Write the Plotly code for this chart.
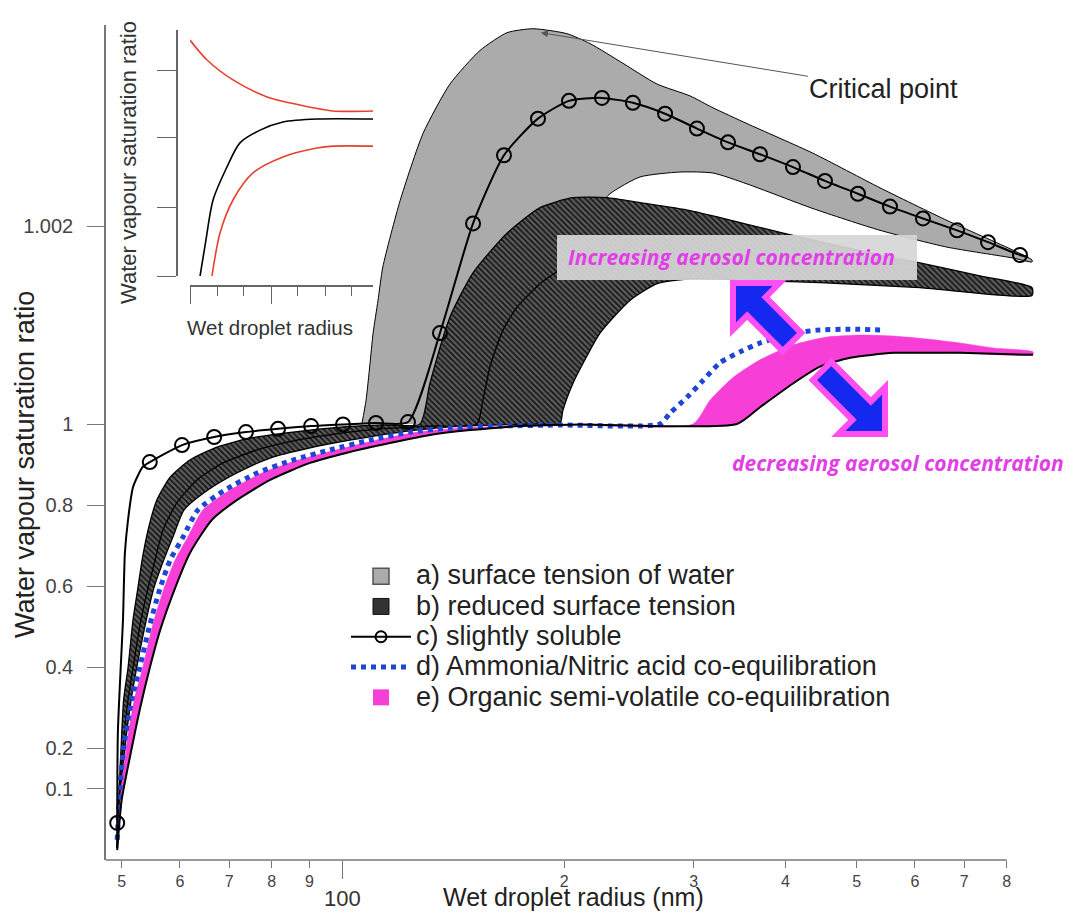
import numpy as np
import plotly.graph_objects as go

# ---------------------------------------------------------------------------
# Data.  x: wet droplet radius (nm), S: saturation ratio
# ---------------------------------------------------------------------------
# a) surface tension of water: outer (upper) and inner (lower) boundary
A_UP_X = [106.1, 107.5, 108.8, 109.9, 111.6, 113.3, 119.6, 128.5, 139.8, 153.6, 167.2, 181.4,
          201.7, 216.8, 240.4, 267.5, 296.6, 318.7, 354.5, 436.0, 537.8, 663.4, 815.6, 865.9]
A_UP_S = [1.0, 1.00024, 1.0006, 1.00092, 1.00125, 1.00159, 1.00226, 1.00294, 1.00344, 1.00378,
          1.00396, 1.004, 1.00395, 1.00385, 1.00365, 1.00344, 1.00332, 1.0032, 1.00304, 1.00274,
          1.00239, 1.00206, 1.00176, 1.00166]
A_LO_X = [132.1, 135.5, 148.9, 174.1, 216.8, 230.8, 253.6, 287.4, 318.7, 354.5, 436.0, 537.8,
          663.4, 815.6, 865.9]
A_LO_S = [1.0, 1.00024, 1.00105, 1.00166, 1.00211, 1.00233, 1.0025, 1.00255, 1.00254, 1.00243,
          1.00218, 1.00196, 1.00179, 1.00168, 1.00164]

# b) reduced surface tension: upper, lower and middle curve of the hatched band
B_UP_X = [49.3, 49.6, 49.9, 50.3, 51.0, 51.8, 52.6, 53.3, 54.3, 55.8, 58.2, 61.9, 67.4, 74.7,
          85.5, 100.0, 113.3, 127.3, 131.3, 139.8, 150.3, 167.2, 185.4, 205.5, 228.7, 253.6,
          296.6, 393.2, 537.8, 609.5, 735.6, 865.9]
B_UP_S = [-0.047, 0.096, 0.2, 0.319, 0.398, 0.516, 0.595, 0.664, 0.738, 0.812, 0.869, 0.911,
          0.943, 0.965, 0.98, 0.993, 0.998, 1.0, 1.00041, 1.00108, 1.00153, 1.00193, 1.00219,
          1.00229, 1.00229, 1.00224, 1.00216, 1.00194, 1.00171, 1.00163, 1.0015, 1.00138]
B_LO_X = [49.3, 49.7, 50.5, 51.5, 52.4, 54.0, 55.3, 56.7, 58.7, 60.8, 65.5, 71.7, 79.6, 90.2,
          102.2, 119.6, 139.8, 163.6, 185.4, 197.3, 199.2, 205.5, 213.4, 223.7, 245.7, 267.5,
          296.6, 369.3, 445.7, 609.5, 865.9]
B_LO_S = [-0.047, 0.072, 0.2, 0.319, 0.398, 0.516, 0.595, 0.652, 0.721, 0.788, 0.837, 0.879,
          0.916, 0.941, 0.96, 0.98, 0.993, 0.998, 1.0, 1.0, 1.00014, 1.00041, 1.00065, 1.00092,
          1.00125, 1.00142, 1.00147, 1.00145, 1.00143, 1.00138, 1.0013]
B_MID_X = [49.3, 49.7, 50.2, 51.0, 51.8, 53.1, 54.3, 55.3, 56.9, 59.4, 63.3, 68.7, 76.4, 86.6,
           100.0, 112.3, 131.3, 152.1, 155.0, 158.5, 165.1, 172.4, 185.4, 195.5]
B_MID_S = [-0.047, 0.096, 0.2, 0.319, 0.398, 0.516, 0.595, 0.652, 0.738, 0.805, 0.862, 0.904,
           0.936, 0.96, 0.978, 0.988, 0.995, 1.0, 1.00024, 1.00058, 1.00095, 1.00118, 1.00142,
           1.00154]

# c) slightly soluble: line path and circle markers
C_LINE_X = [49.3, 49.3, 49.4, 49.9, 50.2, 50.5, 51.0, 51.8, 53.4, 54.6, 60.4, 66.8, 73.8, 81.6,
            90.5, 100.0, 110.9, 122.6, 135.5, 150.3, 165.6, 184.2, 203.0, 225.1, 248.0, 274.3,
            303.1, 334.1, 369.3, 409.5, 452.7, 501.9, 554.9, 615.3, 684.6, 754.4, 833.8, 855.1]
C_LINE_S = [-0.047, 0.015, 0.237, 0.417, 0.516, 0.681, 0.763, 0.844, 0.894, 0.906, 0.948, 0.968,
            0.98, 0.988, 0.995, 0.999, 1.00001, 1.00002, 1.00092, 1.00203, 1.00272, 1.00309,
            1.00327, 1.0033, 1.00325, 1.00314, 1.00299, 1.00285, 1.00273, 1.0026, 1.00246,
            1.00233, 1.0022, 1.00208, 1.00196, 1.00184, 1.00171, 1.00169]
C_MARK_X = [49.3, 54.6, 60.4, 66.8, 73.8, 81.6, 90.5, 100.0, 110.9, 122.6, 135.5, 150.3, 165.6,
            184.2, 203.0, 225.1, 248.0, 274.3, 303.1, 334.1, 369.3, 409.5, 452.7, 501.9, 554.9,
            615.3, 684.6, 754.4, 833.8]
C_MARK_S = [0.015, 0.906, 0.948, 0.968, 0.98, 0.988, 0.995, 0.999, 1.00001, 1.00002, 1.00092,
            1.00203, 1.00272, 1.00309, 1.00327, 1.0033, 1.00325, 1.00314, 1.00299, 1.00285,
            1.00273, 1.0026, 1.00246, 1.00233, 1.0022, 1.00208, 1.00196, 1.00184, 1.00171]

# d) ammonia / nitric acid co-equilibration
D_X = [49.3, 49.7, 50.3, 51.6, 52.9, 54.6, 56.4, 58.2, 60.6, 63.5, 69.1, 76.4, 85.5, 96.0, 108.8,
       123.3, 139.8, 163.6, 197.3, 270.0, 278.6, 293.8, 308.9, 325.8, 346.8, 369.3, 405.7, 441.5,
       489.5, 546.3]
D_S = [-0.027, 0.096, 0.2, 0.319, 0.398, 0.504, 0.595, 0.664, 0.721, 0.788, 0.837, 0.879, 0.911,
       0.936, 0.96, 0.98, 0.99, 0.995, 0.9975, 1.0, 1.00011, 1.00027, 1.00044, 1.00062, 1.00073,
       1.00082, 1.00091, 1.00095, 1.00096, 1.00095]

# e) organic semi-volatile co-equilibration: outer edge of band and black curve
E_UP_X = [49.3, 49.9, 50.7, 52.0, 53.4, 55.1, 57.1, 59.1, 61.5, 64.5, 70.2, 77.6, 86.9, 97.8,
          110.9, 126.5, 144.3, 168.7, 203.6, 299.4, 315.7, 339.3, 369.3, 409.5, 455.6, 505.1,
          560.2, 623.1, 691.0, 766.2, 868.6]
E_UP_S = [-0.04, 0.096, 0.2, 0.319, 0.398, 0.504, 0.595, 0.664, 0.721, 0.788, 0.837, 0.879,
          0.911, 0.936, 0.96, 0.98, 0.99, 0.995, 0.9975, 1.0, 1.00024, 1.00047, 1.00065, 1.0008,
          1.00088, 1.0009, 1.00089, 1.00086, 1.00082, 1.00077, 1.00073]
E_LO_X = [49.3, 50.0, 51.6, 52.9, 54.6, 56.4, 59.1, 61.9, 66.3, 71.7, 79.6, 90.2, 102.2, 115.8,
          131.3, 148.9, 174.1, 210.1, 343.6, 369.3, 409.5, 445.7, 489.5, 560.2, 623.1, 691.0,
          868.6]
E_LO_S = [-0.052, 0.072, 0.2, 0.294, 0.398, 0.491, 0.595, 0.681, 0.763, 0.812, 0.862, 0.904,
          0.931, 0.953, 0.973, 0.985, 0.995, 0.999, 1.0, 1.00017, 1.00041, 1.00058, 1.00067,
          1.00072, 1.00072, 1.00072, 1.0007]

# inset (schematic, arbitrary units 0..1)
IN_BLACK_U = [0.055, 0.087, 0.126, 0.202, 0.273, 0.383, 0.508, 0.694, 1.0]
IN_BLACK_V = [0.0, 0.146, 0.309, 0.443, 0.541, 0.593, 0.626, 0.638, 0.638]
IN_RED_UP_U = [0.0, 0.093, 0.235, 0.421, 0.601, 0.781, 1.0]
IN_RED_UP_V = [0.959, 0.878, 0.797, 0.728, 0.695, 0.671, 0.671]
IN_RED_LO_U = [0.12, 0.164, 0.235, 0.344, 0.508, 0.694, 0.781, 1.0]
IN_RED_LO_V = [0.0, 0.175, 0.309, 0.419, 0.484, 0.52, 0.528, 0.528]

# ticks
X_TICK_VALS = [50, 60, 70, 80, 90, 200, 300, 400, 500, 600, 700, 800]
X_TICK_TEXT = ['5', '6', '7', '8', '9', '2', '3', '4', '5', '6', '7', '8']
X_MAJOR_TICK = [100]
Y_TICK_VALS = [0.1, 0.2, 0.4, 0.6, 0.8, 1.0, 1.002]
Y_TICK_TEXT = ['0.1', '0.2', '0.4', '0.6', '0.8', '1', '1.002']
INSET_X_MAJOR = [0.0, 0.443]
INSET_X_MINOR = [0.148, 0.295, 0.59, 0.738, 0.885]
INSET_Y_TICKS = [0.0, 0.28, 0.561, 0.837]

LEGEND_NAMES = ['a) surface tension of water', 'b) reduced surface tension',
                'c) slightly soluble', 'd) Ammonia/Nitric acid co-equilibration',
                'e) Organic semi-volatile co-equilibration']

# ---------------------------------------------------------------------------
# broken saturation axis: linear below 1, strongly expanded above 1
K_ABOVE = 244.0


def ty(s):
    s = np.asarray(s, dtype=float)
    return np.where(s <= 1.0, s, 1.0 + (s - 1.0) * K_ABOVE).tolist()


# the page body has an 8px margin: the figure starts 8px in from the window corner
BODY = 8
W, H = 1082 - 2 * BODY, 914 - BODY
PL, PR, PT, PB = 106, 1035, 25, 860          # plot box in window pixels
ML, MT = PL - BODY, PT - BODY
MR, MB = W - (PR - BODY), H - (PB - BODY)
PW, PH = PR - PL, PB - PT
X_RANGE = [np.log10(47.6), np.log10(874.0)]
Y_RANGE = [-0.0765, 1.9852]


def fx(p):  # window pixel -> paper x
    return (p - PL) / PW


def fy(p):  # window pixel -> paper y
    return (PB - p) / PH


FONT = 'Liberation Sans, Arial, sans-serif'
GRAY = '#ababab'
PINK = '#f73fd8'
BLUE = '#1d46d4'
MAGENTA = '#e23ee8'

fig = go.Figure()

# a) grey band
fig.add_trace(go.Scatter(
    x=A_UP_X + A_LO_X[::-1], y=ty(A_UP_S + A_LO_S[::-1]), mode='lines', fill='toself',
    fillcolor=GRAY, line=dict(color='black', width=1, shape='spline', smoothing=0.6),
    showlegend=False, hoverinfo='skip'))

# b) hatched band
fig.add_trace(go.Scatter(
    x=B_UP_X + B_LO_X[::-1], y=ty(B_UP_S + B_LO_S[::-1]), mode='lines', fill='toself',
    fillpattern=dict(shape='\\', bgcolor='#5c5c5c', fgcolor='#161616', size=4, solidity=0.45,
                     fillmode='replace'),
    line=dict(color='black', width=1.3, shape='spline', smoothing=0.6),
    showlegend=False, hoverinfo='skip'))
fig.add_trace(go.Scatter(
    x=B_MID_X, y=ty(B_MID_S), mode='lines',
    line=dict(color='black', width=1.3, shape='spline', smoothing=0.6),
    showlegend=False, hoverinfo='skip'))

# e) pink band
fig.add_trace(go.Scatter(
    x=E_UP_X + E_LO_X[::-1], y=ty(E_UP_S + E_LO_S[::-1]), mode='lines', fill='toself',
    fillcolor=PINK, line=dict(color=PINK, width=0.5, shape='spline', smoothing=0.6),
    showlegend=False, hoverinfo='skip'))

LEG = '<span style="font-size:27px">{}</span>'

# d) blue dotted
fig.add_trace(go.Scatter(
    x=D_X, y=ty(D_S), mode='lines', legendrank=4, name=LEG.format(LEGEND_NAMES[3]),
    line=dict(color=BLUE, width=5, dash='dot', shape='spline', smoothing=0.6),
    hoverinfo='skip'))

# e) black curve
fig.add_trace(go.Scatter(
    x=E_LO_X, y=ty(E_LO_S), mode='lines',
    line=dict(color='black', width=2, shape='spline', smoothing=0.6),
    showlegend=False, hoverinfo='skip'))

# c) slightly soluble
fig.add_trace(go.Scatter(
    x=C_LINE_X, y=ty(C_LINE_S), mode='lines',
    line=dict(color='black', width=2, shape='spline', smoothing=0.6),
    showlegend=False, hoverinfo='skip'))
fig.add_trace(go.Scatter(
    x=C_MARK_X, y=ty(C_MARK_S), mode='markers',
    marker=dict(symbol='circle-open', size=14, color='black', line=dict(width=2)),
    showlegend=False, hoverinfo='skip'))

# legend entries
fig.add_trace(go.Scatter(
    x=[None], y=[None], mode='markers', name=LEG.format(LEGEND_NAMES[0]), legendrank=1,
    marker=dict(symbol='square', size=16, color=GRAY, line=dict(color='#555', width=1.5))))
fig.add_trace(go.Scatter(
    x=[None], y=[None], mode='markers', name=LEG.format(LEGEND_NAMES[1]), legendrank=2,
    marker=dict(symbol='square', size=16, color='#333333', line=dict(color='#111', width=1))))
fig.add_trace(go.Scatter(
    x=[None], y=[None], mode='lines+markers', name=LEG.format(LEGEND_NAMES[2]), legendrank=3,
    line=dict(color='black', width=2),
    marker=dict(symbol='circle-open', size=11, color='black', line=dict(width=2))))
fig.add_trace(go.Scatter(
    x=[None], y=[None], mode='markers', name=LEG.format(LEGEND_NAMES[4]), legendrank=5,
    marker=dict(symbol='square', size=16, color=PINK, line=dict(color=PINK, width=0))))

# inset
for u, v, col in [(IN_BLACK_U, IN_BLACK_V, 'black'), (IN_RED_UP_U, IN_RED_UP_V, '#e8402f'),
                  (IN_RED_LO_U, IN_RED_LO_V, '#e8402f')]:
    fig.add_trace(go.Scatter(x=u, y=v, xaxis='x2', yaxis='y2', mode='lines',
                             line=dict(color=col, width=1.6, shape='spline', smoothing=0.8),
                             showlegend=False, hoverinfo='skip'))


# ---------------------------------------------------------------------------
def fat_arrow(tip, tail, head_len=33, head_hw=33, shaft_hw=13):
    tip = np.array(tip, float)
    tail = np.array(tail, float)
    d = tail - tip
    d /= np.linalg.norm(d)
    n = np.array([-d[1], d[0]])
    b = tip + d * head_len
    pts = [tip, b + n * head_hw, b + n * shaft_hw, tail + n * shaft_hw,
           tail - n * shaft_hw, b - n * shaft_hw, b - n * head_hw]
    return 'M ' + ' L '.join(f'{fx(p[0]):.5f},{fy(p[1]):.5f}' for p in pts) + ' Z'


x800 = (np.log10(800) - X_RANGE[0]) / (X_RANGE[1] - X_RANGE[0])
shapes = [
    dict(type='line', xref='paper', yref='paper', x0=0, x1=x800, y0=0, y1=0,
         line=dict(color='#777', width=1.5)),
    dict(type='rect', xref='paper', yref='paper', x0=fx(557), x1=fx(917), y0=fy(280),
         y1=fy(235), fillcolor='rgba(214,214,214,0.93)', line=dict(width=0), layer='above'),
    dict(type='path', xref='paper', yref='paper', path=fat_arrow((733, 283), (792, 342)),
         fillcolor='#1428f0', line=dict(color='#ff4ff2', width=6), layer='above'),
    dict(type='path', xref='paper', yref='paper', path=fat_arrow((885, 434), (822, 371)),
         fillcolor='#1428f0', line=dict(color='#ff4ff2', width=6), layer='above'),
]

CTR = dict(xanchor='center', yanchor='middle', showarrow=False)
MAG_FONT = dict(size=21, color=MAGENTA, family='Open Sans, DejaVu Sans, sans-serif')
annotations = [
    dict(text='Water vapour saturation ratio', xref='paper', yref='paper', x=fx(25), y=fy(465),
         textangle=-90, font=dict(size=27, color='#222'), **CTR),
    dict(text='Wet droplet radius (nm)', xref='paper', yref='paper', x=fx(573), y=fy(897),
         font=dict(size=25, color='#222'), **CTR),
    dict(text='100', xref='x', yref='paper', x=np.log10(100), y=fy(898),
         font=dict(size=22, color='#333'), **CTR),
    dict(text='Water vapour saturation ratio', xref='paper', yref='paper', x=fx(128), y=fy(163),
         textangle=-90, font=dict(size=22, color='#333'), **CTR),
    dict(text='Wet droplet radius', xref='paper', yref='paper', x=fx(270), y=fy(327),
         font=dict(size=20.5, color='#333'), **CTR),
    dict(text='Critical point', xref='x', yref='y', x=np.log10(185.9),
         y=float(ty([1.00396])[0]), ax=343, ay=56, showarrow=True, arrowhead=2,
         arrowsize=1.4, arrowwidth=1, arrowcolor='#555', standoff=0,
         font=dict(size=27, color='#222')),
    dict(text='<b><i>Increasing aerosol concentration</i></b>', xref='paper', yref='paper',
         x=fx(731), y=fy(257), font=MAG_FONT, **CTR),
    dict(text='<b><i>decreasing aerosol concentration</i></b>', xref='paper', yref='paper',
         x=fx(898), y=fy(463), font=MAG_FONT, **CTR),
]

fig.update_layout(
    width=W, height=H,
    margin=dict(l=ML, r=MR, t=MT, b=MB, pad=0),
    paper_bgcolor='white', plot_bgcolor='white',
    font=dict(family=FONT, color='#222'),
    xaxis=dict(type='log', range=X_RANGE, showline=False, showgrid=False, zeroline=False,
               ticks='outside', ticklen=7, tickwidth=1.2, tickcolor='#777',
               tickmode='array', tickvals=X_TICK_VALS, ticktext=X_TICK_TEXT,
               tickfont=dict(size=16, color='#444'),
               minor=dict(tickmode='array', tickvals=X_MAJOR_TICK, ticks='outside', ticklen=18,
                          tickwidth=1.2, tickcolor='#777', showgrid=False)),
    yaxis=dict(range=Y_RANGE, showline=True, linecolor='#777', linewidth=1.5,
               showgrid=False, zeroline=False, ticks='outside', ticklen=17, tickwidth=1.2,
               tickcolor='#777', tickmode='array', tickvals=ty(Y_TICK_VALS),
               ticktext=Y_TICK_TEXT, tickfont=dict(size=20, color='#444'),
               ticklabelstandoff=10),
    xaxis2=dict(domain=[fx(190), fx(373)], anchor='free', position=fy(286), range=[0, 1],
                showline=True, linecolor='#666', linewidth=1.5, showgrid=False,
                zeroline=False, showticklabels=False, ticks='outside', ticklen=17,
                tickwidth=1.2, tickcolor='#666', tickmode='array', tickvals=INSET_X_MAJOR,
                minor=dict(tickmode='array', tickvals=INSET_X_MINOR, ticks='outside',
                           ticklen=9, tickwidth=1.2, tickcolor='#666', showgrid=False)),
    yaxis2=dict(domain=[fy(276), fy(30)], anchor='free', position=fx(177), range=[0, 1],
                showline=True, linecolor='#666', linewidth=1.5, showgrid=False,
                zeroline=False, showticklabels=False, ticks='outside', ticklen=19,
                tickwidth=1.2, tickcolor='#666', tickmode='array', tickvals=INSET_Y_TICKS),
    legend=dict(x=fx(346), y=fy(556), xanchor='left', yanchor='top',
                font=dict(size=21, color='#222'), itemwidth=60,
                bgcolor='rgba(0,0,0,0)', traceorder='normal'),
    shapes=shapes,
    annotations=annotations,
    showlegend=True,
)

fig.write_html("out.html")
